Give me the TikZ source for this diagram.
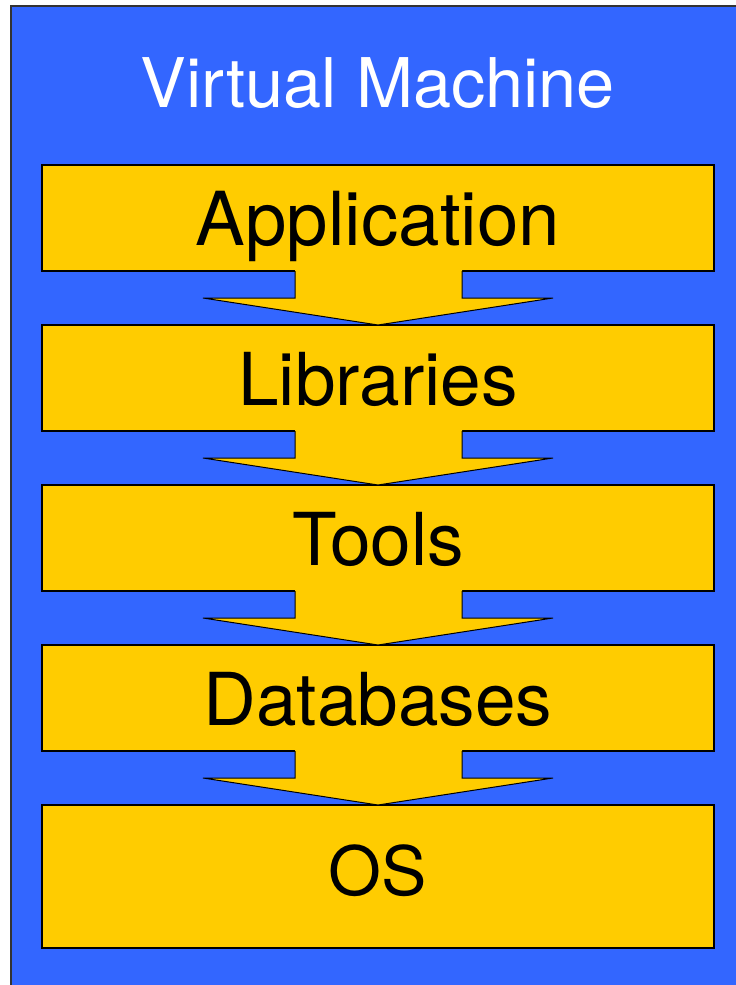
\documentclass[tikz,border=0pt]{standalone}
\usepackage{fontspec}
\setmainfont{TeX Gyre Heros}
\usetikzlibrary{calc}
\definecolor{vmblue}{HTML}{3366FF}
\definecolor{layeryellow}{HTML}{FFCC00}
\begin{document}
\begin{tikzpicture}[x=1pt,y=-1pt,
  layer/.style={draw=black,line width=1.4pt,fill=layeryellow,rectangle,
    minimum width=672pt,inner sep=0pt,outer sep=0pt},
  lbl/.style={anchor=base,inner sep=0pt,font=\fontsize{73}{88}\selectfont}]
\useasboundingbox (0,0) rectangle (736,985);
\clip (0,0) rectangle (736,985);
\node[draw=black!80,line width=1.6pt,fill=vmblue,rectangle,inner sep=0pt,
  minimum width=740pt,minimum height=995pt,anchor=north west] (vm) at (10,5) {};
\node[lbl,text=white,font=\fontsize{68.5}{82}\selectfont] (title) at (378,107) {Virtual Machine};
\node[layer,minimum height=106pt] (app) at (378,218) {};
\node[layer,minimum height=106pt] (lib) at (378,378) {};
\node[layer,minimum height=106pt] (tools) at (378,538) {};
\node[layer,minimum height=106pt] (db) at (378,698) {};
\node[layer,minimum height=143pt] (os) at (378,876.5) {};
\foreach \a/\b in {app/lib,lib/tools,tools/db,db/os}{
  \fill[layeryellow] ([xshift=-83pt,yshift=1pt]\a.south) -- ([xshift=-83pt,yshift=27pt]\b.north)
    -- ([xshift=-175pt,yshift=27pt]\b.north) -- (\b.north)
    -- ([xshift=175pt,yshift=27pt]\b.north) -- ([xshift=84pt,yshift=27pt]\b.north)
    -- ([xshift=84pt,yshift=1pt]\a.south) -- cycle;
  \draw[black,line width=1pt,line join=miter] ([xshift=-83pt]\a.south) -- ([xshift=-83pt,yshift=27pt]\b.north)
    -- ([xshift=-175pt,yshift=27pt]\b.north) -- (\b.north)
    -- ([xshift=175pt,yshift=27pt]\b.north) -- ([xshift=84pt,yshift=27pt]\b.north)
    -- ([xshift=84pt]\a.south);
}
\node[lbl,font=\fontsize{74.5}{89}\selectfont] (appT) at (378,245) {Application};
\node[lbl] (libT) at (378,405) {Libraries};
\node[lbl] (toolsT) at (378,565) {Tools};
\node[lbl] (dbT) at (378,725) {Databases};
\node[lbl,font=\fontsize{68}{82}\selectfont] (osT) at (378,895) {OS};
\end{tikzpicture}
\end{document}
